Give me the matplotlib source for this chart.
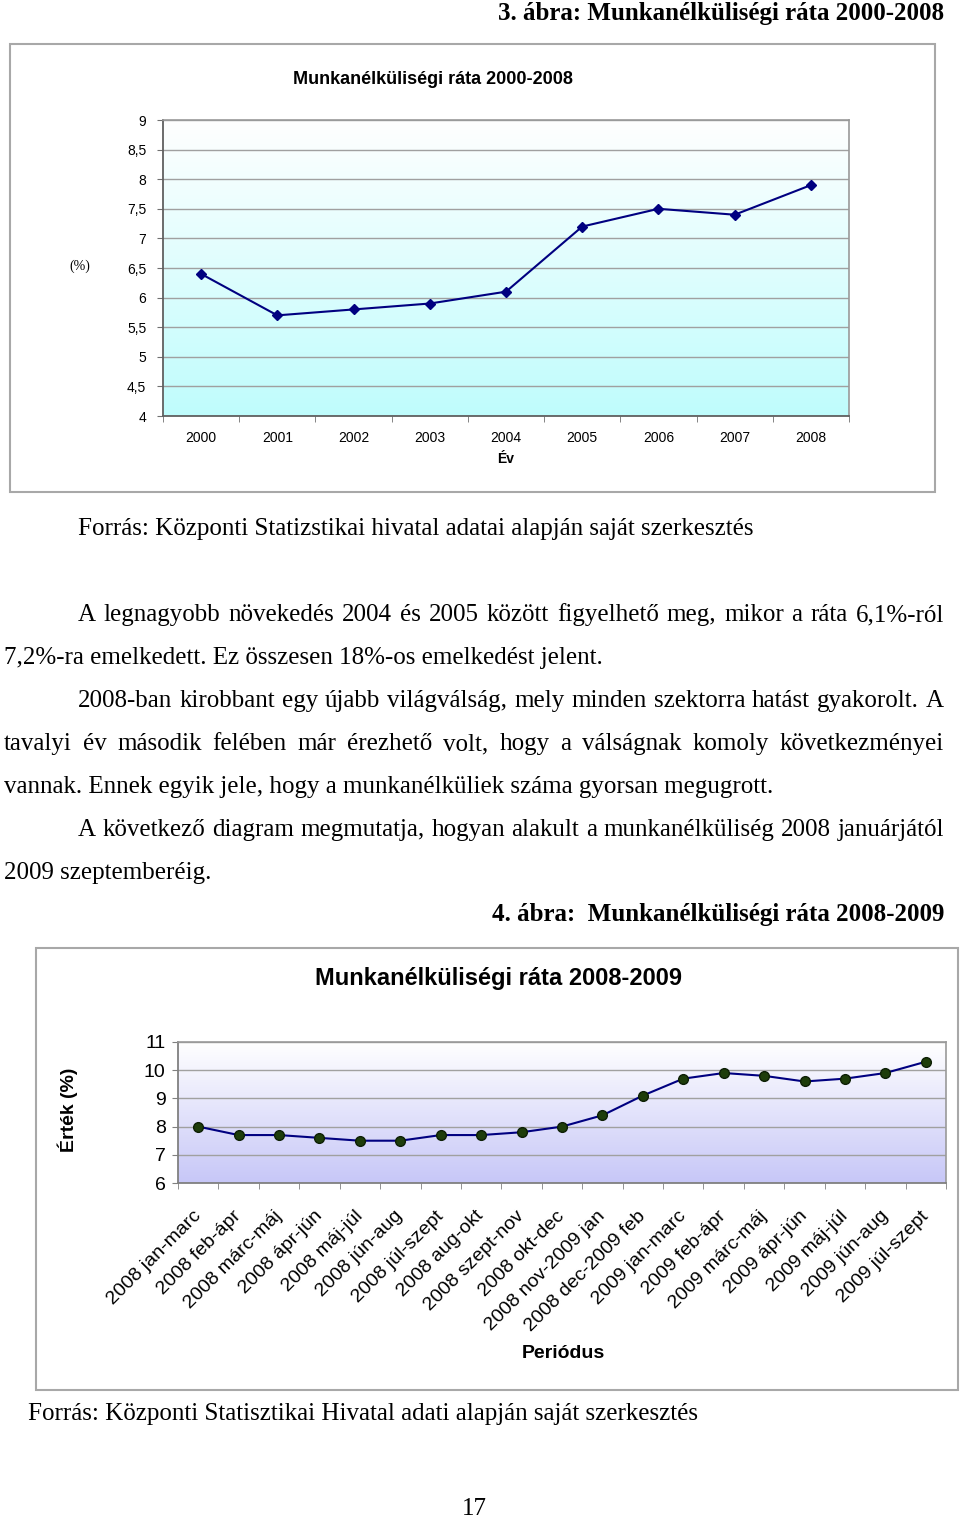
#!/usr/bin/env python3
# Munkanélküliségi ráta - two Excel-style line charts on a document page

import matplotlib
matplotlib.use("Agg")
import matplotlib.pyplot as plt
from matplotlib.patches import Rectangle
import numpy as np

W, H = 960, 1518

YEARS = ["2000", "2001", "2002", "2003", "2004", "2005", "2006", "2007", "2008"]
RATE_YEARLY = [6.4, 5.7, 5.8, 5.9, 6.1, 7.2, 7.5, 7.4, 7.9]

PERIODS = ["2008 jan-marc", "2008 feb-ápr", "2008 márc-máj", "2008 ápr-jún",
           "2008 máj-júl", "2008 jún-aug", "2008 júl-szept", "2008 aug-okt",
           "2008 szept-nov", "2008 okt-dec", "2008 nov-2009 jan",
           "2008 dec-2009 feb", "2009 jan-marc", "2009 feb-ápr",
           "2009 márc-máj", "2009 ápr-jún", "2009 máj-júl", "2009 jún-aug",
           "2009 júl-szept"]
RATE_MONTHLY = [8.0, 7.7, 7.7, 7.6, 7.5, 7.5, 7.7, 7.7, 7.8, 8.0,
                8.4, 9.1, 9.7, 9.9, 9.8, 9.6, 9.7, 9.9, 10.3]

# (text, left, right or None when not justified, line centre y)
BODY = [
    ("A legnagyobb növekedés 2004 és 2005 között figyelhető meg, mikor a ráta 6,1%-ról", 78, 944, 613),
    ("7,2%-ra emelkedett. Ez összesen 18%-os emelkedést jelent.", 4, None, 656),
    ("2008-ban kirobbant egy újabb világválság, mely minden szektorra hatást gyakorolt. A", 78, 944, 699),
    ("tavalyi év második felében már érezhető volt, hogy a válságnak komoly következményei", 4, 944, 742),
    ("vannak. Ennek egyik jele, hogy a munkanélküliek száma gyorsan megugrott.", 4, None, 785),
    ("A következő diagram megmutatja, hogyan alakult a munkanélküliség 2008 januárjától", 78, 944, 828),
    ("2009 szeptemberéig.", 4, None, 871),
]

SERIF = ["Liberation Serif", "DejaVu Serif"]
SANS = ["Liberation Sans", "DejaVu Sans"]
BODY_SIZE = 18


def fx(x):
    return x / W


def fy(y):
    return 1 - y / H


def fbox(left, top, right, bottom):
    return [left / W, 1 - bottom / H, (right - left) / W, (bottom - top) / H]


def gradient(ax, top, bottom):
    c = np.linspace(0, 1, 256)[:, None]
    rgb = (1 - c) * np.array(top) + c * np.array(bottom)
    ax.imshow(rgb[:, None, :], extent=[0, 1, 0, 1], transform=ax.transAxes,
              aspect="auto", origin="upper", zorder=0, interpolation="bilinear")


def frame(fig, left, top, right, bottom):
    fig.patches.append(Rectangle((fx(left), fy(bottom)), (right - left) / W,
                                 (bottom - top) / H, transform=fig.transFigure,
                                 fill=False, edgecolor="#a8a8a8", lw=1.5))


def put_line(fig, renderer, text, x0, x1, y, **kw):
    base = fy(y + 8)
    if x1 is None:
        fig.text(fx(x0), base, text, va="baseline", **kw)
        return
    words = text.split(" ")
    items = [fig.text(0, base, w, va="baseline", **kw) for w in words]
    widths = [t.get_window_extent(renderer).width for t in items]
    gap = (x1 - x0 - sum(widths)) / (len(words) - 1)
    x = x0
    for t, w in zip(items, widths):
        t.set_x(fx(x))
        x += w + gap


def comma(v):
    return f"{v:g}".replace(".", ",")


def style_spines(ax, axis_color):
    for name, side in ax.spines.items():
        if name in ("left", "bottom"):
            side.set_color(axis_color)
            side.set_linewidth(1.3)
        else:
            side.set_color("#999999")
            side.set_linewidth(1.2)


def chart_yearly(fig):
    frame(fig, 10, 44, 935, 492)
    fig.text(fx(433), fy(79), "Munkanélküliségi ráta 2000-2008", family=SANS,
             fontsize=13, fontweight="bold", ha="center", va="center")

    ax = fig.add_axes(fbox(163, 120, 849, 416))
    gradient(ax, (1, 1, 1), (0.75, 0.99, 0.99))
    x = np.arange(len(YEARS))
    ax.plot(x, RATE_YEARLY, color="#000080", lw=1.5, marker="D", ms=5, zorder=3)
    ax.set_xlim(-0.5, len(YEARS) - 0.5)
    ax.set_ylim(4, 9)
    ticks = np.arange(4, 9.01, 0.5)
    ax.set_yticks(ticks)
    ax.set_yticklabels([comma(v) for v in ticks], family=SANS, fontsize=10)
    ax.set_xticks(x)
    ax.set_xticklabels(YEARS, family=SANS, fontsize=10)
    ax.set_xticks(np.arange(-0.5, len(YEARS)), minor=True)
    ax.tick_params(axis="x", which="major", length=0, pad=11)
    ax.tick_params(axis="x", which="minor", length=4, color="#707070")
    ax.tick_params(axis="y", length=4, pad=8, color="#707070")
    ax.grid(axis="y", color="#a0a0a0", lw=1)
    ax.set_axisbelow(True)
    style_spines(ax, "#606060")
    fig.text(fx(80), fy(266), "(%)", family=SERIF, fontsize=10,
             ha="center", va="center")
    fig.text(fx(506), fy(459), "Év", family=SANS, fontsize=10,
             fontweight="bold", ha="center", va="center")


def chart_monthly(fig):
    frame(fig, 36, 948, 958, 1390)
    fig.text(fx(498), fy(979), "Munkanélküliségi ráta 2008-2009", family=SANS,
             fontsize=17, fontweight="bold", ha="center", va="center")

    ax = fig.add_axes(fbox(178, 1042, 946, 1183))
    gradient(ax, (1, 1, 1), (0.78, 0.78, 0.97))
    x = np.arange(len(PERIODS))
    ax.plot(x, RATE_MONTHLY, color="#000080", lw=1.5, marker="o", ms=7,
            markerfacecolor="#1e3d0a", markeredgecolor="#0d1f05", zorder=3)
    ax.set_xlim(-0.5, len(PERIODS) - 0.5)
    ax.set_ylim(6, 11)
    ax.set_yticks(range(6, 12))
    ax.set_yticklabels([str(v) for v in range(6, 12)], family=SANS, fontsize=14)
    ax.set_xticks(x)
    ax.set_xticklabels(PERIODS, family=SANS, fontsize=14, rotation=45,
                       ha="right", va="center", rotation_mode="anchor")
    ax.set_xticks(np.arange(-0.5, len(PERIODS)), minor=True)
    ax.tick_params(axis="x", which="major", length=0, pad=22)
    ax.tick_params(axis="x", which="minor", length=4, color="#808080")
    ax.tick_params(axis="y", length=4, pad=5, color="#808080")
    ax.grid(axis="y", color="#a0a0a0", lw=1)
    ax.set_axisbelow(True)
    style_spines(ax, "#808080")
    fig.text(fx(68), fy(1110), "Érték (%)", family=SANS, fontsize=14,
             fontweight="bold", rotation=90, ha="center", va="center")
    fig.text(fx(563), fy(1353), "Periódus", family=SANS, fontsize=14,
             fontweight="bold", ha="center", va="center")


if __name__ == "__main__":
    fig = plt.figure(figsize=(W / 100, H / 100), dpi=100)
    renderer = fig.canvas.get_renderer()

    fig.text(fx(944), fy(20), "3. ábra: Munkanélküliségi ráta 2000-2008",
             family=SERIF, fontsize=BODY_SIZE, fontweight="bold",
             ha="right", va="baseline")
    chart_yearly(fig)
    fig.text(fx(78), fy(535),
             "Forrás: Központi Statizstikai hivatal adatai alapján saját szerkesztés",
             family=SERIF, fontsize=BODY_SIZE, va="baseline")

    for text, x0, x1, y in BODY:
        put_line(fig, renderer, text, x0, x1, y, family=SERIF, fontsize=BODY_SIZE)

    fig.text(fx(944), fy(921), "4. ábra:  Munkanélküliségi ráta 2008-2009",
             family=SERIF, fontsize=BODY_SIZE, fontweight="bold",
             ha="right", va="baseline")
    chart_monthly(fig)
    fig.text(fx(28), fy(1420),
             "Forrás: Központi Statisztikai Hivatal adati alapján saját szerkesztés",
             family=SERIF, fontsize=BODY_SIZE, va="baseline")
    fig.text(fx(474), fy(1515), "17", family=SERIF, fontsize=BODY_SIZE,
             ha="center", va="baseline")

    fig.savefig("out.png", dpi=100)
